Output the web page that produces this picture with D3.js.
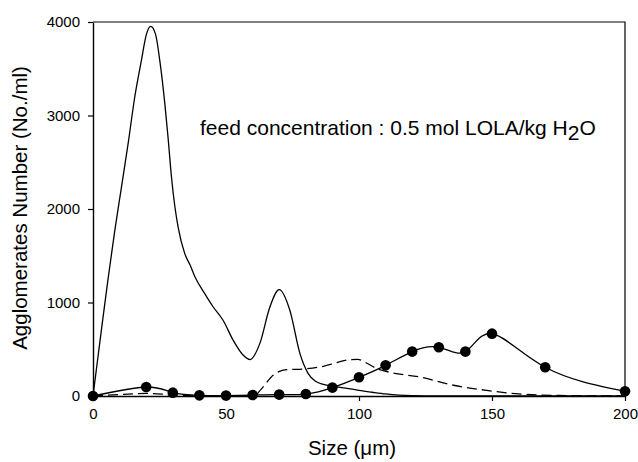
<!DOCTYPE html>
<html>
<head>
<meta charset="utf-8">
<script src="https://cdn.jsdelivr.net/npm/d3@7"></script>
<style>
  body { margin: 0; background: #fff; }
  text { font-family: Arial, "Liberation Sans", sans-serif; fill: #000; }
</style>
</head>
<body>
<svg id="chart" width="638" height="462"></svg>
<script>
// size classes (um) and counts
const xTicks = [0, 50, 100, 150, 200];
const yTicks = [0, 1000, 2000, 3000, 4000];

// solid curve, no markers
const bigSize = [0, 3.4, 5.6, 8.2, 10.7, 13.2, 15.7, 18.2, 20, 21.7, 23.5, 25.1, 27, 28.2, 29.5, 30.8, 32, 34.5, 36.5, 38.5, 42, 45, 48.9, 52.7, 56.5, 59, 62.7, 66.5, 70, 74, 77.8, 80.9, 83.5, 86.6, 90.3, 95, 100, 105, 110, 115, 120, 130, 200];
const bigCount = [0, 760, 1240, 1772, 2235, 2699, 3198, 3590, 3860, 3953, 3870, 3590, 3127, 2770, 2342, 2021, 1807, 1523, 1400, 1265, 1095, 960, 810, 596, 435, 389, 560, 952, 1138, 917, 453, 240, 160, 125, 104, 85, 60, 40, 22, 10, 4, 0, 0];

// dashed curve
const dashSize = [0, 10, 20, 30, 40, 60.5, 63.4, 67.7, 72.8, 79, 86.6, 92, 96.6, 99.5, 103, 106.7, 112.9, 123, 135.5, 148, 160, 175, 200];
const dashCount = [0, 15, 28, 12, 0, 0, 79, 221, 282, 289, 318, 360, 389, 392, 350, 293, 246, 203, 115, 60, 22, 6, 0];

// solid curve with filled circles
const dotSize = [0, 20, 30, 40, 50, 60, 70, 80, 90, 100, 110, 120, 130, 140, 150, 170, 200];
const dotCount = [0, 96, 36, 7, 5, 10, 15, 21, 90, 200, 328, 475, 521, 475, 667, 307, 50];

const W = 638, H = 462;
const margin = { top: 22, right: 13, bottom: 66, left: 93 };
const iw = W - margin.left - margin.right;
const ih = H - margin.top - margin.bottom;

const svg = d3.select('#chart');
const g = svg.append('g').attr('transform', `translate(${margin.left},${margin.top})`);

const x = d3.scaleLinear().domain([0, 200]).range([0, iw]);
const y = d3.scaleLinear().domain([0, 4000]).range([ih, 0]);

// frame top + right
g.append('path')
  .attr('d', `M0,0H${iw}V${ih}`)
  .attr('fill', 'none')
  .attr('stroke', '#000')
  .attr('stroke-width', 1.2);

const xAxis = g.append('g')
  .attr('transform', `translate(0,${ih})`)
  .call(d3.axisBottom(x).tickValues(xTicks).tickFormat(d3.format('d')).tickSize(5).tickPadding(7).tickSizeOuter(0));
const yAxis = g.append('g')
  .call(d3.axisLeft(y).tickValues(yTicks).tickFormat(d3.format('d')).tickSize(5).tickPadding(8).tickSizeOuter(0));

[xAxis, yAxis].forEach(a => {
  a.select('.domain').attr('stroke-width', 1.4);
  a.selectAll('.tick line').attr('stroke-width', 1.2);
  a.selectAll('.tick text')
    .style('font-family', 'Arial, "Liberation Sans", sans-serif')
    .style('font-size', '15px');
});

const toPts = (xs, ys) => xs.map((v, i) => [v, ys[i]]);

const line = d3.line()
  .x(d => x(d[0]))
  .y(d => y(d[1]));

g.append('path')
  .datum(toPts(bigSize, bigCount))
  .attr('d', line.curve(d3.curveMonotoneX))
  .attr('fill', 'none')
  .attr('stroke', '#000')
  .attr('stroke-width', 1.3);

g.append('path')
  .datum(toPts(dashSize, dashCount))
  .attr('d', line.curve(d3.curveMonotoneX))
  .attr('fill', 'none')
  .attr('stroke', '#000')
  .attr('stroke-width', 1.3)
  .attr('stroke-dasharray', '10,5');

const dots = toPts(dotSize, dotCount);
g.append('path')
  .datum(dots)
  .attr('d', line.curve(d3.curveNatural))
  .attr('fill', 'none')
  .attr('stroke', '#000')
  .attr('stroke-width', 1.3);

g.selectAll('circle.dot')
  .data(dots)
  .enter()
  .append('circle')
  .attr('class', 'dot')
  .attr('cx', d => x(d[0]))
  .attr('cy', d => y(d[1]))
  .attr('r', 5.3)
  .attr('fill', '#000');

// axis titles
svg.append('text')
  .attr('x', margin.left + iw / 2 - 7)
  .attr('y', 455)
  .attr('text-anchor', 'middle')
  .style('font-size', '20.5px')
  .text('Size (\u03bcm)');

svg.append('text')
  .attr('transform', 'translate(27,208) rotate(-90)')
  .attr('text-anchor', 'middle')
  .style('font-size', '20.5px')
  .text('Agglomerates Number (No./ml)');

// annotation
const note = svg.append('text')
  .attr('x', 200)
  .attr('y', 135)
  .style('font-size', '21px');
note.append('tspan').text('feed concentration : 0.5 mol LOLA/kg H');
note.append('tspan').attr('dy', 5).text('2');
note.append('tspan').attr('dy', -5).text('O');
</script>
</body>
</html>
